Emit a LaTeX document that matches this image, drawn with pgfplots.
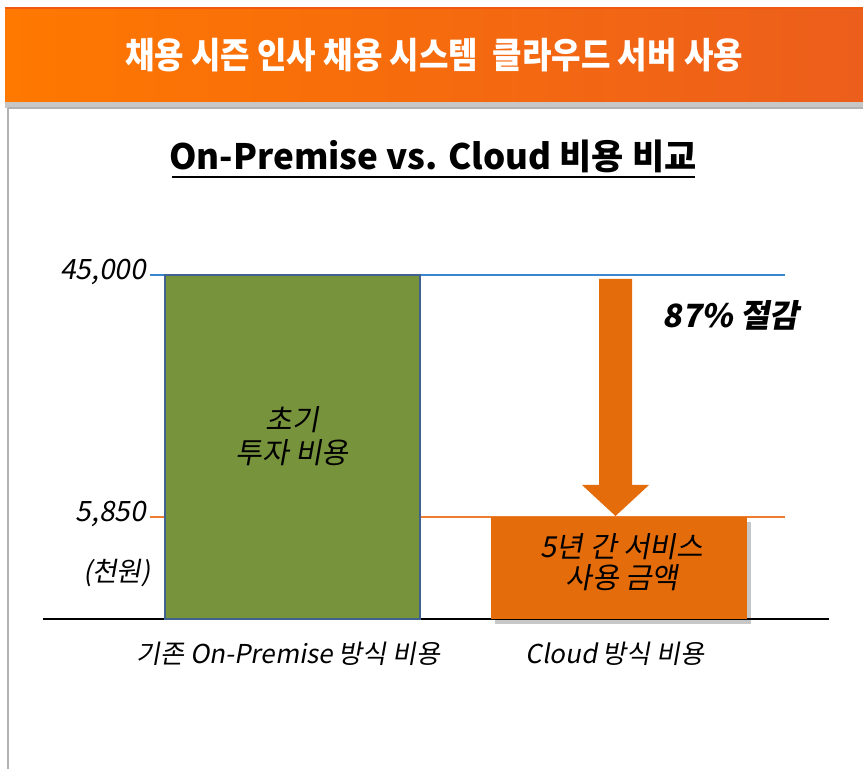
\documentclass[border=0pt]{standalone}
\usepackage{pgfplots}
\pgfplotsset{compat=1.18}
\usepackage{fontspec}
\setmainfont{Noto Sans CJK KR}
\newfontfamily\kri{Noto Sans CJK KR}[FakeSlant=0.18]
\usetikzlibrary{shadows}
\definecolor{hdrA}{HTML}{FF7800}
\definecolor{hdrB}{HTML}{EC5E1C}
\definecolor{hdrEdge}{HTML}{F05A10}
\definecolor{barGreen}{HTML}{77933C}
\definecolor{barBorder}{HTML}{41628F}
\definecolor{barOrange}{HTML}{E46C0A}
\definecolor{lineBlue}{HTML}{3A86D0}
\definecolor{lineOrange}{HTML}{ED7D31}
\begin{document}
\begin{tikzpicture}
\begin{scope}[x=0.5pt,y=-0.5pt]
\path[use as bounding box] (0,0) rectangle (863,769);
\fill[white] (0,0) rectangle (863,769);
\shade[left color=hdrA, right color=hdrB] (5,8) rectangle (863,102);
\draw[hdrEdge, line width=1pt] (5,8.5) -- (863,8.5);
\fill[black!22] (5,102) rectangle (863,108);
\draw[black!30, line width=0.6pt] (8,108) -- (8,769);
\draw[black!30, line width=0.6pt] (8,108) -- (863,108);
\node[white, font=\bfseries\fontsize{16}{18}\selectfont] at (434,55) {\scalebox{1}[1.12]{채용 시즌 인사 채용 시스템\ \ 클라우드 서버 사용}};
\node[font=\bfseries\fontsize{17.5}{20}\selectfont] at (433,156) {On-Premise vs. Cloud 비용 비교};
\draw[line width=1pt] (172,177) -- (695,177);
\end{scope}
\begin{axis}[
  at={(21.5pt,-309.5pt)}, anchor=south west,
  scale only axis, width=393pt, height=172pt,
  ymode=log, log origin y=infty,
  ymin=2475, ymax=45000,
  xmin=-0.7642, xmax=1.6432,
  clip=false,
  axis x line*=bottom, axis y line*=left,
  y axis line style={draw=none},
  x axis line style={black, line width=0.8pt, -},
  xtick={0,1},
  xticklabels={기존 On-Premise 방식 비용, Cloud 방식 비용},
  ytick={5850,45000},
  yticklabels={5{,}850, 45{,}000},
  major tick length=0pt,
  /pgf/number format/assume math mode=true,
  xticklabel style={font=\kri\fontsize{13}{16}\selectfont, yshift=-8pt, xshift=-2pt},
  yticklabel style={font=\kri\fontsize{14}{16}\selectfont, anchor=east, xshift=55pt, yshift=1.5pt},
]
\addplot[lineBlue, line width=1pt] coordinates {(-0.4364,45000) (1.5084,45000)};
\addplot[lineOrange, line width=1pt] coordinates {(-0.4364,5850) (1.5084,5850)};
\addplot[ybar, bar width=127.5pt, bar shift=0pt, fill=barGreen, draw=barBorder, line width=1pt] coordinates {(0,45000)};
\addplot[ybar, bar width=128pt, bar shift=0pt, fill=barOrange, draw=none,
  drop shadow={shadow xshift=2pt, shadow yshift=-2.5pt, opacity=0.22, fill=black}] coordinates {(1,5850)};
\end{axis}
\begin{scope}[x=0.5pt,y=-0.5pt]
\fill[barOrange] (599,279) -- (632,279) -- (632,485) -- (649,485) -- (615.5,516) -- (582,485) -- (599,485) -- cycle;
\node[align=center, font=\kri\fontsize{14.5}{16.5}\selectfont] at (292,436) {초기\\투자 비용};
\node[align=center, font=\kri\fontsize{14.5}{15.5}\selectfont] at (622,562) {5년 간 서비스\\사용 금액};
\node[font=\kri\bfseries\fontsize{16}{19}\selectfont] at (731,315) {87\% 절감};
\node[font=\kri\fontsize{13.5}{16}\selectfont] at (117,573) {(천원)};
\end{scope}
\end{tikzpicture}
\end{document}
